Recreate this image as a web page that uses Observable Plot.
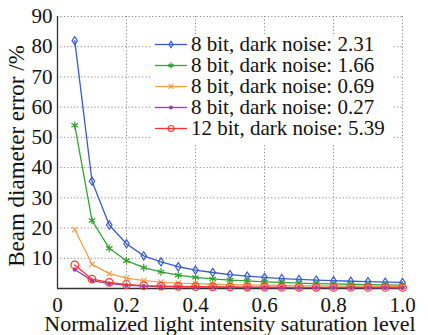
<!DOCTYPE html>
<html><head><meta charset="utf-8">
<script src="https://cdn.jsdelivr.net/npm/d3@7"></script>
<script src="https://cdn.jsdelivr.net/npm/@observablehq/plot@0.6"></script>
<style>
body{margin:0;background:#fff;}
#wrap{position:relative;width:428px;height:335px;font-family:"Liberation Serif",serif;color:#111;}
#legend{position:absolute;left:150px;top:34px;background:#fff;padding:0 8px 4px 2px;}
.row{display:flex;align-items:center;height:21px;font-size:21px;color:#111;white-space:nowrap;}
.row svg{margin-right:3px;flex:none}
#ytitle{position:absolute;left:17px;top:156px;width:300px;text-align:center;font-size:23px;line-height:24px;white-space:nowrap;transform:translate(-50%,-50%) rotate(-90deg);}
</style></head><body><div id="wrap"></div>
<script>
const xValues = [0.05,0.1,0.15,0.2,0.25,0.3,0.35,0.4,0.45,0.5,0.55,0.6,0.65,0.7,0.75,0.8,0.85,0.9,0.95,1.0];
const seriesNames = ["8 bit, dark noise: 2.31","8 bit, dark noise: 1.66","8 bit, dark noise: 0.69","8 bit, dark noise: 0.27","12 bit, dark noise: 5.39"];
const blue   = [82,35.5,21,14.8,10.8,8.8,7.2,6.1,5.3,4.6,4.1,3.7,3.3,3.0,2.8,2.6,2.4,2.3,2.1,2.0];
const green  = [54,22.5,13.3,9.2,6.9,5.5,4.4,3.7,3.2,2.8,2.5,2.2,2.0,1.8,1.6,1.5,1.4,1.3,1.2,1.1];
const orange = [19.5,8.0,4.9,3.4,2.6,2.1,1.8,1.6,1.4,1.3,1.2,1.1,1.0,0.95,0.9,0.85,0.8,0.78,0.75,0.72];
const purple = [6.3,2.6,1.6,1.1,0.8,0.65,0.55,0.5,0.45,0.4,0.37,0.35,0.32,0.3,0.29,0.28,0.27,0.26,0.25,0.24];
const red    = [7.8,3.1,2.0,1.3,0.95,0.8,0.7,0.6,0.55,0.5,0.47,0.45,0.42,0.4,0.38,0.37,0.36,0.35,0.34,0.33];
const xTicks = [0,0.2,0.4,0.6,0.8,1.0];
const yTicks = [10,20,30,40,50,60,70,80,90];
const xTitle = "Normalized light intensity saturation level";
const yTitle = "Beam diameter error /%";

const colors = ["#3b5bc9","#35a035","#f0a050","#9b3fb5","#ff3333"];
const tallDiamond = {draw(ctx, size){const r=Math.sqrt(size/Math.PI);ctx.moveTo(0,-r*1.2);ctx.lineTo(r*0.8,0);ctx.lineTo(0,r*1.2);ctx.lineTo(-r*0.8,0);ctx.closePath();}};
const symbols = [tallDiamond,"asterisk","times","circle","circle"];
const symR = [3.4,3.6,2.6,1.6,3.8];
const legR = [2.6,2.8,2.2,1.4,3.0];
const symFill = ["none","none","none",null,"none"];
const allValues = [blue,green,orange,purple,red];

const font = "'Liberation Serif', serif";
const marks = [
  Plot.gridX(xTicks.slice(1), {stroke:"#888", strokeOpacity:1, strokeWidth:1, strokeDasharray:"1.2,2.2"}),
  Plot.gridY(yTicks, {stroke:"#888", strokeOpacity:1, strokeWidth:1, strokeDasharray:"1.2,2.2"}),
  Plot.axisX({ticks:xTicks, tickSize:0, tickPadding:9, fontSize:21, label:null, tickFormat:d=>d===0?"0":d.toFixed(1)}),
  Plot.axisY({ticks:yTicks, tickSize:0, tickPadding:5, fontSize:21, label:null}),
  Plot.ruleX([0], {stroke:"#333", strokeWidth:1.3}),
  Plot.ruleY([0], {stroke:"#333", strokeWidth:1.3}),
  Plot.text([xTitle], {frameAnchor:"bottom", dy:35, fontSize:22, fill:"#111", lineAnchor:"middle"})
];
allValues.forEach((vals,i)=>{
  const d = xValues.map((x,j)=>({x, y:vals[j]}));
  marks.push(Plot.line(d, {x:"x", y:"y", stroke:colors[i], strokeWidth:1.3}));
  const opts = {x:"x", y:"y", r:symR[i], symbol:symbols[i], stroke:colors[i], strokeWidth:1.2};
  opts.fill = symFill[i] === null ? colors[i] : "none";
  marks.push(Plot.dot(d, opts));
});

const chart = Plot.plot({
  width:428, height:335, marginLeft:57, marginRight:26, marginTop:16, marginBottom:47,
  style:{fontFamily:font, color:"#111", background:"#fff", overflow:"visible"},
  x:{domain:[0,1]},
  y:{domain:[0,90]},
  marks
});
const wrap = document.getElementById("wrap");
wrap.appendChild(chart);

const yt = document.createElement("div");
yt.id = "ytitle"; yt.textContent = yTitle;
wrap.appendChild(yt);

const legend = document.createElement("div");
legend.id = "legend";
seriesNames.forEach((name,i)=>{
  const row = document.createElement("div");
  row.className = "row";
  const svg = d3.create("svg").attr("width",36).attr("height",21);
  svg.append("line").attr("x1",3).attr("x2",35).attr("y1",10.5).attr("y2",10.5).attr("stroke",colors[i]).attr("stroke-width",1.3);
  const d3sym = {"asterisk":d3.symbolAsterisk,"times":d3.symbolTimes,"circle":d3.symbolCircle}[symbols[i]] || symbols[i];
  svg.append("path").attr("transform","translate(19,10.5)")
    .attr("d", d3.symbol(d3sym, legR[i]*legR[i]*Math.PI)())
    .attr("fill", symFill[i]===null?colors[i]:"none").attr("stroke",colors[i]).attr("stroke-width",1.2);
  row.appendChild(svg.node());
  const t = document.createElement("span"); t.textContent = name; row.appendChild(t);
  legend.appendChild(row);
});
wrap.appendChild(legend);
</script></body></html>
